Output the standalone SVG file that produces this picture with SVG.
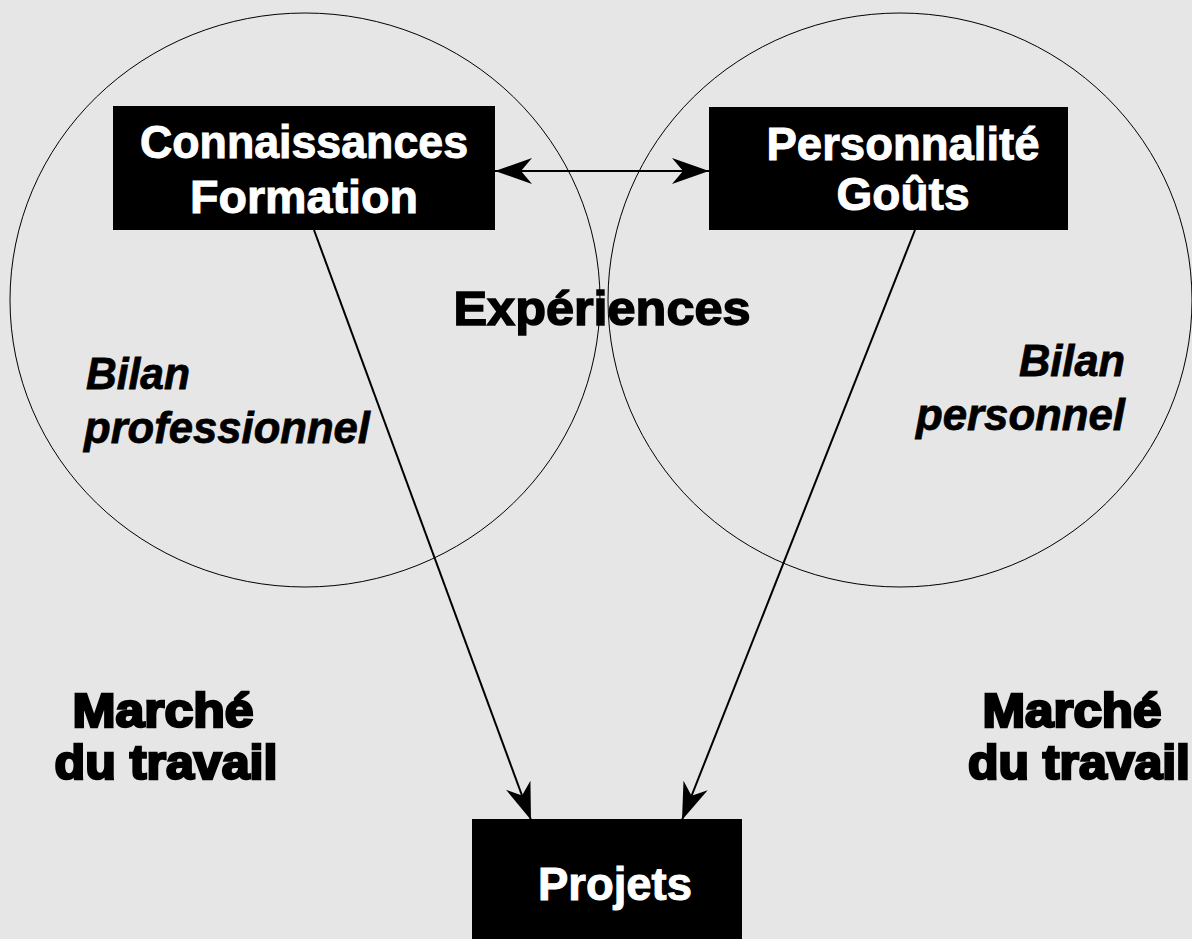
<svg xmlns="http://www.w3.org/2000/svg" width="1192" height="939" viewBox="0 0 1192 939">
  <style>
    .ring { fill: none; stroke: #000; stroke-width: 1; }
    .box { fill: #000; }
    .boxtext { fill: #fff; stroke: #fff; stroke-width: 1; font-family: "Liberation Sans Narrow", "Liberation Sans", Arial, sans-serif; font-weight: bold; font-size: 47px; text-anchor: middle; }
    .label { fill: #000; stroke: #000; font-family: "Liberation Sans", Arial, sans-serif; font-weight: bold; }
    .heavy { font-size: 48px; text-anchor: middle; stroke-width: 1.5; }
    .black { stroke-width: 2.6; }
    .ital { font-family: "Liberation Sans Narrow", "Liberation Sans", Arial, sans-serif; font-style: italic; font-size: 44px; stroke-width: 0.8; }
    .link { stroke: #000; stroke-width: 2; fill: none; }
  </style>
  <defs>
    <marker id="head" viewBox="-40 -15 42 30" refX="0" refY="0" markerWidth="42" markerHeight="30" markerUnits="userSpaceOnUse" orient="auto-start-reverse">
      <path d="M0,0 L-37,-13 L-26,0 L-37,13 Z" fill="#000"/>
    </marker>
  </defs>

  <rect width="1192" height="939" fill="#e6e6e6"/>

  <!-- two overlapping assessment areas -->
  <g id="areas">
    <ellipse class="ring" cx="305" cy="300" rx="295" ry="287"/>
    <ellipse class="ring" cx="900" cy="300" rx="292" ry="287"/>
  </g>

  <!-- connectors -->
  <g id="connectors">
    <line class="link" x1="495" y1="171" x2="709" y2="171" marker-start="url(#head)" marker-end="url(#head)"/>
    <line class="link" x1="314" y1="230" x2="531" y2="820" marker-end="url(#head)"/>
    <line class="link" x1="915" y1="230" x2="682" y2="820" marker-end="url(#head)"/>
  </g>

  <g id="node-connaissances">
    <rect class="box" x="113" y="106" width="382" height="124"/>
    <text class="boxtext" x="304" y="158" textLength="328" lengthAdjust="spacingAndGlyphs">Connaissances</text>
    <text class="boxtext" x="304" y="213" textLength="228" lengthAdjust="spacingAndGlyphs">Formation</text>
  </g>

  <g id="node-personnalite">
    <rect class="box" x="709" y="107" width="359" height="123"/>
    <text class="boxtext" x="903" y="160" textLength="273" lengthAdjust="spacingAndGlyphs">Personnalité</text>
    <text class="boxtext" x="903" y="210" textLength="133" lengthAdjust="spacingAndGlyphs">Goûts</text>
  </g>

  <g id="node-projets">
    <rect class="box" x="472" y="819" width="270" height="120"/>
    <text class="boxtext" x="615" y="900" textLength="154" lengthAdjust="spacingAndGlyphs">Projets</text>
  </g>

  <g id="label-experiences">
    <text class="label heavy" x="602" y="325" textLength="297" lengthAdjust="spacingAndGlyphs">Expériences</text>
  </g>

  <g id="label-bilan-pro">
    <text class="label ital" x="86" y="389" textLength="104" lengthAdjust="spacingAndGlyphs">Bilan</text>
    <text class="label ital" x="84" y="443" textLength="286" lengthAdjust="spacingAndGlyphs">professionnel</text>
  </g>

  <g id="label-bilan-perso">
    <text class="label ital" x="1019" y="376" textLength="106" lengthAdjust="spacingAndGlyphs">Bilan</text>
    <text class="label ital" x="916" y="430" textLength="209" lengthAdjust="spacingAndGlyphs">personnel</text>
  </g>

  <g id="label-marche-left">
    <text class="label heavy black" x="163" y="727" textLength="181" lengthAdjust="spacingAndGlyphs">Marché</text>
    <text class="label heavy black" x="166" y="779" textLength="223" lengthAdjust="spacingAndGlyphs">du travail</text>
  </g>

  <g id="label-marche-right">
    <text class="label heavy black" x="1072" y="727" textLength="179" lengthAdjust="spacingAndGlyphs">Marché</text>
    <text class="label heavy black" x="1079" y="779" textLength="222" lengthAdjust="spacingAndGlyphs">du travail</text>
  </g>
</svg>
